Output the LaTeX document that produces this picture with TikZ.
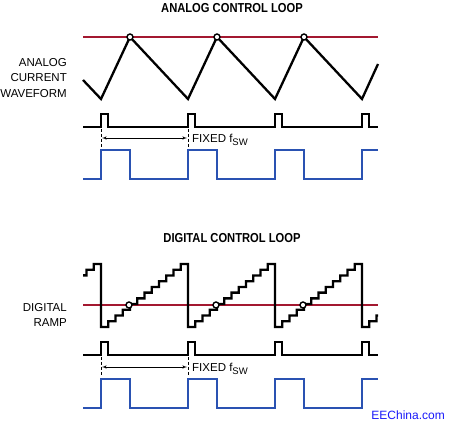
\documentclass[tikz,border=0pt]{standalone}
\usepackage{fontspec}
\setmainfont{Liberation Sans}
\newfontfamily\headfont[FakeStretch=0.86]{Liberation Sans}
\usepackage{tikz}
\usetikzlibrary{arrows}
\definecolor{refred}{RGB}{163,24,48}
\definecolor{gateblue}{RGB}{42,82,178}
\definecolor{siteblue}{RGB}{25,25,250}
\newcommand{\fsw}{f\raisebox{-2.6pt}{\fontsize{9.5}{10}\selectfont SW}}

\begin{document}
\begin{tikzpicture}[x=1pt,y=-1pt]
\tikzset{heading/.style = {inner sep=0pt, font=\headfont\bfseries\fontsize{13}{15}\selectfont}}
\tikzset{lbl/.style = {inner sep=0pt, anchor=east, align=right, font=\fontsize{11.5}{15.5}\selectfont}}
\tikzset{wave/.style = {line width=2.3pt, line join=miter}}
\tikzset{ref/.style = {line width=2.3pt, draw=refred}}
\tikzset{gate/.style = {line width=2.5pt, draw=gateblue}}
\tikzset{hit/.style = {shape=circle, draw, fill=white, line width=1.4pt, inner sep=0pt, minimum size=6pt}}
\tikzset{guide/.style = {line width=0.8pt, dash pattern=on 3pt off 2pt}}
\tikzset{span/.style = {<->, > = latex', line width=0.6pt}}
\useasboundingbox (0,0) rectangle (450,427);
% headings
\node[heading] (atitle) at (232,8) {ANALOG CONTROL LOOP};
\node[heading] (dtitle) at (232,238) {DIGITAL CONTROL LOOP};
% left labels
\node[lbl] (alabel) at (67,78) {ANALOG\\CURRENT\\WAVEFORM};
\node[lbl] (dlabel) at (67,315) {DIGITAL\\RAMP};

%%% analog loop
\draw[ref] (83,37) -- (378,37);
\draw[wave] (83,80) -- (101,99) -- (130,37) -- (188,99) -- (217,37)
  -- (275,99) -- (304,37) -- (362,99) -- (378,64);
\foreach \x/\n in {130/1,217/2,304/3}
  \node[hit] (a\n) at (\x,37) {};
% clock
\draw[wave] (83,127) \foreach \x in {101,188,275,362}
  {-- (\x,127) -- (\x,114) -- (\x+7,114) -- (\x+7,127)} -- (378,127);
% period
\coordinate (at1) at (101,129);
\coordinate (ab1) at (101,147);
\coordinate (at2) at (188,129);
\coordinate (ab2) at (188,147);
\draw[guide] (at1) -- (ab1);
\draw[guide] (at2) -- (ab2);
\coordinate (as1) at (102,138);
\coordinate (as2) at (187,138);
\draw[span] (as1) -- (as2);
\node[anchor=west, inner sep=0pt, font=\fontsize{11.5}{13}\selectfont] (afix) at (192,140) {FIXED \fsw};
% pwm
\draw[gate] (83,179) \foreach \x in {101,188,275}
  {-- (\x,179) -- (\x,150) -- (\x+29,150) -- (\x+29,179)}
  -- (362,179) -- (362,150) -- (378,150);

%%% digital loop
\draw[ref] (83,305) -- (378,305);
\draw[wave] (83,275.4) -- (86.5,275.4) -- (86.5,269.7) -- (93.75,269.7) -- (93.75,264) -- (101,264)
  \foreach \s in {101,188,275} {
    -- (\s,327) \foreach \k in {0,...,10} {
      -- ({\s+7.25*(\k+1)},{327-5.727*\k}) -- ({\s+7.25*(\k+1)},{327-5.727*(\k+1)})
    } -- (\s+87,264)
  }
  -- (362,327) -- (369.25,327) -- (369.25,321.3) -- (376.5,321.3) -- (376.5,315.5) -- (378,315.5);
\foreach \x/\n in {129/1,216/2,303/3}
  \node[hit] (d\n) at (\x,305) {};
% clock
\draw[wave] (83,355) \foreach \x in {101,188,275,362}
  {-- (\x,355) -- (\x,342) -- (\x+7,342) -- (\x+7,355)} -- (378,355);
% period
\coordinate (dt1) at (101,357);
\coordinate (db1) at (101,375);
\coordinate (dt2) at (188,357);
\coordinate (db2) at (188,375);
\draw[guide] (dt1) -- (db1);
\draw[guide] (dt2) -- (db2);
\coordinate (ds1) at (102,367);
\coordinate (ds2) at (187,367);
\draw[span] (ds1) -- (ds2);
\node[anchor=west, inner sep=0pt, font=\fontsize{11.5}{13}\selectfont] (dfix) at (192,369) {FIXED \fsw};
% pwm
\draw[gate] (83,408) \foreach \x in {101,188,275}
  {-- (\x,408) -- (\x,379) -- (\x+29,379) -- (\x+29,408)}
  -- (362,408) -- (362,379) -- (378,379);

% site mark
\node[anchor=east, inner sep=0pt, text=siteblue, font=\fontsize{12}{14}\selectfont] (site) at (445,415) {EEChina.com};
\end{tikzpicture}
\end{document}
